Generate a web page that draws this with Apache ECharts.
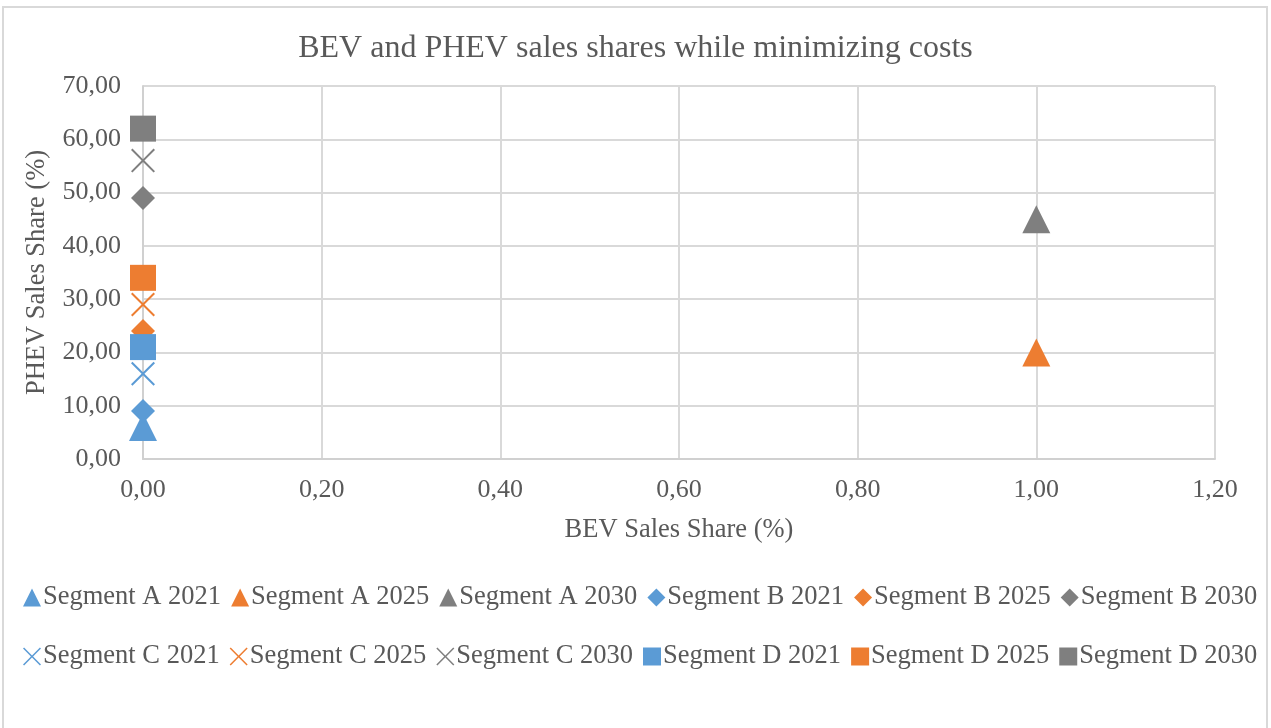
<!DOCTYPE html>
<html>
<head>
<meta charset="utf-8">
<script src="https://cdn.jsdelivr.net/npm/echarts@6/dist/echarts.min.js"></script>
<style>
html, body { margin: 0; padding: 0; background: #fff; }
#main { width: 1271px; height: 728px; }
</style>
</head>
<body>
<div id="main"></div>
<script>
// data
var seriesNames = ['Segment A 2021', 'Segment A 2025', 'Segment A 2030',
                   'Segment B 2021', 'Segment B 2025', 'Segment B 2030',
                   'Segment C 2021', 'Segment C 2025', 'Segment C 2030',
                   'Segment D 2021', 'Segment D 2025', 'Segment D 2030'];
var bevShare  = [0, 1, 1, 0, 0, 0, 0, 0, 0, 0, 0, 0];
var phevShare = [6, 20, 45, 9, 24, 49, 16, 29, 56, 21, 34, 62];

var palette = ['#5b9bd5', '#ed7d31', '#7f7f7f'];
var crossPath = 'path://M0,6 L6,0 L50,44 L94,0 L100,6 L56,50 L100,94 L94,100 L50,56 L6,100 L0,94 L44,50 Z';
var symbols = ['triangle', 'diamond', crossPath, 'rect'];
var symbolSizes = [28, 24, 24, 26];

var fmt = function (v) { return v.toFixed(2).replace('.', ','); };
var font = '"Liberation Serif", "Times New Roman", serif';

var series = seriesNames.map(function (name, i) {
    var seg = Math.floor(i / 3);
    return {
        name: name,
        type: 'scatter',
        symbol: symbols[seg],
        symbolSize: symbolSizes[seg],
        itemStyle: { color: palette[i % 3], opacity: 1 },
        data: [[bevShare[i], phevShare[i]]]
    };
});

var legendBase = {
    orient: 'horizontal',
    width: 1260,
    itemWidth: 18,
    itemHeight: 18,
    itemGap: 10,
    textStyle: { fontFamily: font, fontSize: 26.5, color: '#595959', padding: [0, 0, 0, -3] }
};

var myChart = echarts.init(document.getElementById('main'));
var option = {
    animation: false,
    title: {
        text: 'BEV and PHEV sales shares while minimizing costs',
        left: 'center',
        top: 28,
        textStyle: { fontFamily: font, fontSize: 32, fontWeight: 'normal', color: '#595959' }
    },
    legend: [
        Object.assign({ left: 18, top: 579, data: seriesNames.slice(0, 6) }, legendBase),
        Object.assign({ left: 18, top: 638, data: seriesNames.slice(6) }, legendBase)
    ],
    grid: { left: 143, right: 56, top: 86, bottom: 269 },
    xAxis: {
        type: 'value',
        min: 0, max: 1.2, interval: 0.2,
        name: 'BEV Sales Share (%)',
        nameLocation: 'middle',
        nameGap: 58,
        nameTextStyle: { fontFamily: font, fontSize: 26.5, color: '#595959' },
        axisLine: { lineStyle: { color: '#d0d0d0', width: 2 } },
        axisTick: { show: false },
        axisLabel: { formatter: fmt, margin: 18, fontFamily: font, fontSize: 26, color: '#595959' },
        splitLine: { lineStyle: { color: '#d9d9d9', width: 2 } }
    },
    yAxis: {
        type: 'value',
        min: 0, max: 70, interval: 10,
        name: 'PHEV Sales Share (%)',
        nameLocation: 'middle',
        nameGap: 92,
        nameTextStyle: { fontFamily: font, fontSize: 26.5, color: '#595959' },
        axisLine: { show: true, lineStyle: { color: '#d0d0d0', width: 2 } },
        axisTick: { show: false },
        axisLabel: { formatter: fmt, margin: 22, fontFamily: font, fontSize: 26, color: '#595959' },
        splitLine: { lineStyle: { color: '#d9d9d9', width: 2 } }
    },
    graphic: [{
        type: 'rect',
        shape: { x: 3, y: 7, width: 1264, height: 740 },
        style: { fill: 'none', stroke: '#d9d9d9', lineWidth: 2 },
        silent: true
    }],
    series: series
};
myChart.setOption(option);
</script>
</body>
</html>
